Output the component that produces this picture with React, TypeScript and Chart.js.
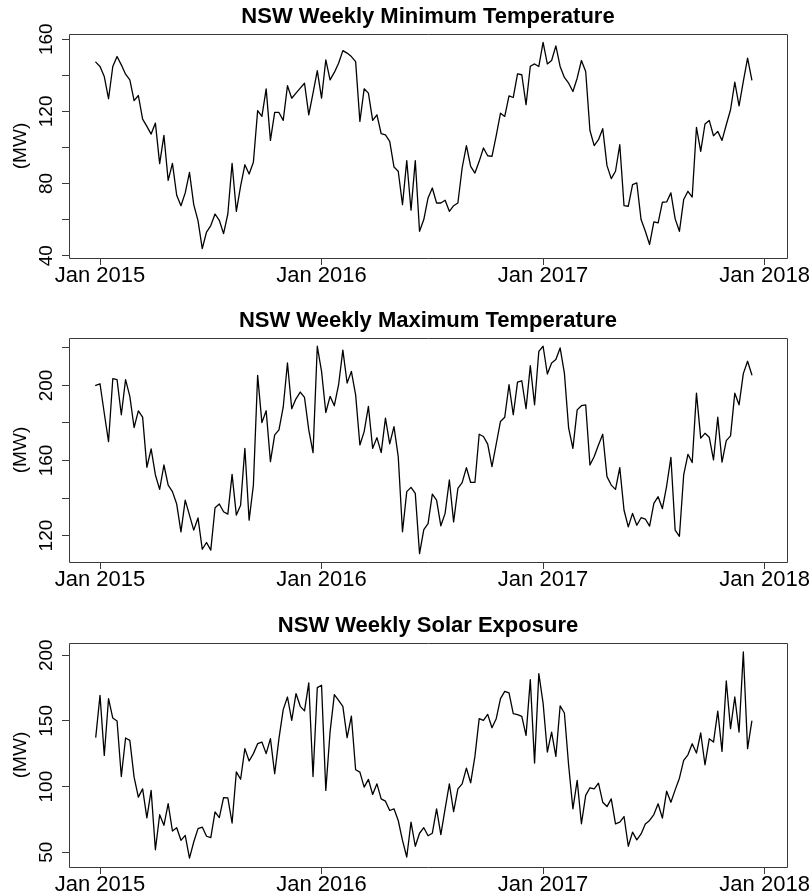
import React, { useEffect, useRef } from "react";
import { Chart, registerables } from "chart.js";

Chart.register(...registerables);

// Weekly time series: first observation in week 52 of 2014, 52 weeks per year
const START_YEAR = 2014 + 51 / 52;
const FREQ = 52;

const X_TICKS = [2015, 2016, 2017, 2018];
const X_TICK_LABELS = ["Jan 2015", "Jan 2016", "Jan 2017", "Jan 2018"];

const MIN_TEMP = [
  147.3, 144.9, 139.3, 127, 144.9, 150.4, 145.8, 140.6, 137.5, 126,
  128.8, 115.7, 111.7, 107.4, 113.5, 91, 106.7, 81.7, 91.2, 73.5,
  67.7, 74.8, 86.2, 68.3, 59.4, 43.9, 53.1, 56.7, 63.1, 59.6,
  52.2, 63.1, 91.2, 64.6, 78.5, 90.4, 85.3, 91.8, 120.4, 117.2,
  132.5, 103.9, 119.4, 119.4, 115, 134.2, 127.3, 130.1, 132.9, 135.6,
  118.1, 130.1, 142.6, 127.3, 148.6, 137.5, 141.6, 146.7, 153.7, 152.3,
  150.4, 147.6, 114.4, 132.5, 130.1, 115, 118.1, 107.6, 107.0, 103.4,
  89.2, 86.8, 68.3, 92.7, 65.2, 92.7, 53.5, 60, 72, 77.5,
  69.2, 69.2, 70.7, 64.6, 67.7, 69.2, 88.6, 101, 89.5, 85.8,
  92.3, 99.7, 95.4, 95.1, 106.5, 119, 117.2, 128.6, 127.7, 140.8,
  140.3, 123.7, 145, 146.3, 144.9, 158.2, 146.3, 148.2, 156.3, 144.9,
  138.8, 135.6, 131, 138.4, 148.2, 142.1, 109.4, 101, 104.3, 110.4,
  89.9, 82.7, 86.8, 101.5, 67.7, 67.4, 79.4, 80.3, 60, 53.5,
  46.2, 58.7, 58.2, 69.6, 69.8, 74.8, 60.4, 53.5, 71.1, 75.7,
  72.5, 111.1, 97.8, 113, 115, 106.5, 108.9, 103.9, 112.6, 120.9,
  136.2, 123.1, 136.6, 149.5, 137.5,
];

const MAX_TEMP = [
  200, 200.9, 185.2, 170.1, 203.6, 203.1, 184.4, 203.1, 194.2, 177.6,
  186.5, 183.1, 156.4, 166.2, 152.3, 144.6, 157.6, 146.9, 143.4, 136.8,
  122, 138.9, 130.9, 122.9, 129.4, 112.7, 116.3, 112.2, 134.8, 136.8,
  132.7, 131.4, 152.6, 130.9, 136.2, 166.5, 128.2, 146.9, 205.4, 180.2,
  186.5, 159.4, 173.7, 176.3, 188.4, 212, 187.6, 192.9, 196.5, 193.6,
  176.3, 164.2, 220.9, 207.5, 185.6, 194.2, 189.2, 200.4, 218.8, 201.3,
  207.5, 195, 168.3, 175.4, 188.8, 166.5, 172.2, 164.2, 182.6, 168.9,
  178.1, 162.1, 122, 143.4, 145.7, 142.5, 110.4, 123.2, 126.4, 142.1,
  138.9, 125.2, 131.8, 149.6, 127.3, 145.1, 148.2, 156.2, 148.3, 148.3,
  174, 172.8, 168.7, 156.7, 168.8, 180.8, 183.1, 200.4, 184.4, 201.8,
  202.5, 187.6, 210.6, 189.7, 218.2, 220.9, 206.1, 212, 213.8, 220,
  206.6, 177.2, 166.5, 187, 189.2, 189.7, 157.6, 162.1, 168.3, 174,
  151.4, 146.9, 144.6, 156.2, 133.5, 124.6, 131.8, 125.5, 129.5, 128.8,
  125, 137.1, 140.7, 134.4, 146.4, 161.7, 122.9, 119.6, 152.3, 163.3,
  158.9, 195.9, 171.9, 174.5, 172.4, 160.3, 183.1, 159.1, 170.6, 173.1,
  195.9, 189.7, 206.3, 212.9, 205.7,
];

const SOLAR = [
  137.7, 169.5, 123.7, 166.9, 152.2, 149.9, 107.7, 137, 135.2, 107.2,
  92, 98.3, 76.2, 97.1, 51.9, 78.6, 70.5, 87, 66.2, 68.7,
  59.1, 62.9, 45.6, 57.8, 68, 69.2, 62.2, 61.1, 80.7, 76.4,
  91.6, 91.4, 72.3, 111.2, 105.6, 128.9, 119.5, 125.1, 132.7, 133.9,
  125.1, 136.5, 109.8, 136.5, 158.6, 168.2, 150.4, 170.8, 161.1, 157.6,
  178.9, 107.7, 175.3, 177.1, 97.1, 141.6, 170, 165.7, 161.1, 137.2,
  153.7, 112.8, 111, 99.6, 105.5, 94, 102.1, 90.7, 88.9, 81.8,
  83.1, 74.2, 59.1, 46.4, 73, 54.6, 64.5, 68.7, 62.6, 64.5,
  83.1, 63.5, 83.1, 102.1, 81, 98.3, 102.1, 114.1, 102.9, 123,
  151.7, 150.4, 155, 144.8, 151.7, 167, 172.5, 171.3, 155.5, 154.7,
  153.5, 139, 181.4, 117.9, 186, 163.6, 126.3, 141.5, 123, 161.4,
  156, 116.1, 83.1, 104.7, 71.7, 93.3, 99.1, 98.3, 102.6, 88.1,
  84.8, 90.7, 71.7, 72.9, 77.2, 54.6, 65.3, 59.4, 64, 71.6,
  74.2, 78.7, 86.9, 76, 96.5, 88.1, 97.5, 106.4, 119.9, 124.2,
  132.6, 125.5, 140.8, 116.6, 136.4, 133.9, 157.5, 126.8, 180.4, 144.1,
  168.2, 141.5, 202.5, 128.9, 149.9,
];

const TITLES = [
  "NSW Weekly Minimum Temperature",
  "NSW Weekly Maximum Temperature",
  "NSW Weekly Solar Exposure",
];
const Y_AXIS_TITLE = "(MW)";

const MIN_Y_TICKS = [40, 60, 80, 100, 120, 140, 160];
const MIN_Y_LABELS = [40, 80, 120, 160];
const MAX_Y_TICKS = [120, 140, 160, 180, 200, 220];
const MAX_Y_LABELS = [120, 160, 200];
const SOLAR_Y_TICKS = [50, 100, 150, 200];
const SOLAR_Y_LABELS = [50, 100, 150, 200];

const FONT = '"Liberation Sans", Arial, Helvetica, sans-serif';
const AXIS_COLOR = "#3a3a3a";

const CANVAS_W = 811;
const CANVAS_H = 287;
const PLOT_TOP = 34;
const PLOT_LEFT = 69;
const PLOT_RIGHT_PAD = 24;
const PLOT_BOTTOM_PAD = 29;

type Panel = {
  title: string;
  values: number[];
  yMin: number;
  yMax: number;
  yTicks: number[];
  yLabels: number[];
  top: number;
};

const PANELS: Panel[] = [
  { title: TITLES[0], values: MIN_TEMP, yMin: 38.7, yMax: 162.9, yTicks: MIN_Y_TICKS, yLabels: MIN_Y_LABELS, top: 0 },
  { title: TITLES[1], values: MAX_TEMP, yMin: 105.9, yMax: 225.3, yTicks: MAX_Y_TICKS, yLabels: MAX_Y_LABELS, top: 304 },
  { title: TITLES[2], values: SOLAR, yMin: 38.8, yMax: 209.3, yTicks: SOLAR_Y_TICKS, yLabels: SOLAR_Y_LABELS, top: 609 },
];

function makeDecor(panel: Panel) {
  return {
    id: "decor",
    afterDraw(chart: any) {
      const { ctx, chartArea: a, scales } = chart;
      ctx.save();
      // plot box (single line per side)
      ctx.strokeStyle = AXIS_COLOR;
      ctx.lineWidth = 1;
      const l = Math.round(a.left) + 0.5;
      const t = Math.round(a.top) + 0.5;
      const r = Math.round(a.right) + 0.5;
      const b = Math.round(a.bottom) + 0.5;
      ctx.beginPath();
      ctx.moveTo(l, t);
      ctx.lineTo(r, t);
      ctx.lineTo(r, b);
      ctx.lineTo(l, b);
      ctx.closePath();
      ctx.stroke();
      ctx.fillStyle = "#000";
      ctx.textBaseline = "alphabetic";
      ctx.textAlign = "center";
      // title
      ctx.font = `bold 22px ${FONT}`;
      ctx.fillText(panel.title, (a.left + a.right) / 2, a.top - 11.3);
      // x tick labels
      ctx.font = `22px ${FONT}`;
      X_TICKS.forEach((v, i) => {
        ctx.fillText(X_TICK_LABELS[i], scales.x.getPixelForValue(v), a.bottom + 23.7);
      });
      // y tick labels (rotated)
      ctx.font = `19px ${FONT}`;
      panel.yLabels.forEach((v) => {
        const y = scales.y.getPixelForValue(v);
        ctx.save();
        ctx.translate(52, y);
        ctx.rotate(-Math.PI / 2);
        ctx.fillText(String(v), 0, 0);
        ctx.restore();
      });
      // y axis title
      ctx.save();
      ctx.translate(25.5, (a.top + a.bottom) / 2);
      ctx.rotate(-Math.PI / 2);
      ctx.fillText(Y_AXIS_TITLE, 0, 0);
      ctx.restore();
      ctx.restore();
    },
  };
}

function PanelChart({ panel }: { panel: Panel }) {
  const ref = useRef<HTMLCanvasElement | null>(null);
  useEffect(() => {
    if (!ref.current) return;
    const points = panel.values.map((v, i) => ({ x: START_YEAR + i / FREQ, y: v }));
    const chart = new Chart(ref.current, {
      type: "line",
      data: {
        datasets: [
          {
            data: points,
            borderColor: "#000",
            borderWidth: 1.3,
            pointRadius: 0,
            tension: 0,
            fill: false,
            borderJoinStyle: "round",
            borderCapStyle: "round",
          },
        ],
      },
      options: {
        responsive: false,
        animation: false,
        events: [],
        layout: { padding: { top: PLOT_TOP, left: 0, right: PLOT_RIGHT_PAD, bottom: 0 } },
        plugins: { legend: { display: false }, tooltip: { enabled: false }, title: { display: false } },
        scales: {
          x: {
            type: "linear",
            min: 2014.86,
            max: 2018.101,
            afterBuildTicks: (s: any) => {
              s.ticks = X_TICKS.map((v) => ({ value: v }));
            },
            afterFit: (s: any) => {
              s.height = PLOT_BOTTOM_PAD;
            },
            grid: { drawOnChartArea: false, drawTicks: true, tickLength: 7, color: AXIS_COLOR, lineWidth: 1 },
            border: { display: false },
            ticks: { display: false },
          },
          y: {
            type: "linear",
            min: panel.yMin,
            max: panel.yMax,
            afterBuildTicks: (s: any) => {
              s.ticks = panel.yTicks.map((v) => ({ value: v }));
            },
            afterFit: (s: any) => {
              s.width = PLOT_LEFT;
            },
            grid: { drawOnChartArea: false, drawTicks: true, tickLength: 7, color: AXIS_COLOR, lineWidth: 1 },
            border: { display: false },
            ticks: { display: false },
          },
        },
      } as any,
      plugins: [makeDecor(panel)],
    });
    return () => chart.destroy();
  }, [panel]);
  return (
    <canvas
      ref={ref}
      width={CANVAS_W}
      height={CANVAS_H}
      style={{ position: "absolute", left: 0, top: panel.top, width: CANVAS_W, height: CANVAS_H }}
    />
  );
}

export default function App() {
  return (
    <div style={{ position: "absolute", left: 0, top: 0, width: 811, height: 896, background: "#fff" }}>
      {PANELS.map((p, i) => (
        <PanelChart key={i} panel={p} />
      ))}
    </div>
  );
}
